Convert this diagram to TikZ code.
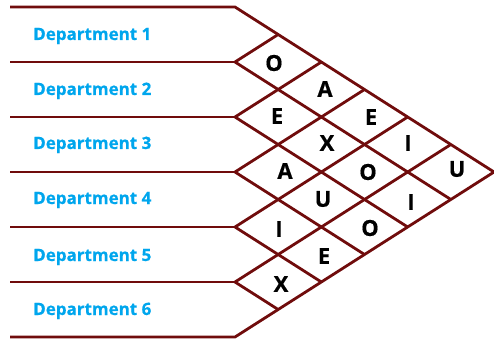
\documentclass[tikz,border=0pt]{standalone}
\usepackage{fontspec}
\setmainfont{Open Sans}[BoldFeatures={FakeBold=0.6}]
\definecolor{linered}{RGB}{112,12,12}
\definecolor{deptblue}{RGB}{0,166,237}
\begin{document}
\begin{tikzpicture}[x=1pt,y=-1pt,
  gridline/.style={draw=linered, line width=2.8pt, line join=round},
  dept/.style={anchor=base west, inner sep=0pt, text=deptblue, font=\fontsize{17}{20}\selectfont\bfseries},
  rel/.style={inner sep=0pt, text=black, font=\fontsize{22}{24}\selectfont\bfseries}]
\useasboundingbox (0,0) rectangle (494,339);
\def\ux{43.17}
\def\vy{27.5}
\coordinate (R) at (494,172);
\foreach \k in {0,...,6} {
  \coordinate (S\k) at (10,{7+2*\k*\vy});
  \coordinate (L\k) at (235,{7+2*\k*\vy});
  \coordinate (U\k) at ({235+\k*\ux},{7+\k*\vy});
  \coordinate (D\k) at ({235+(6-\k)*\ux},{7+(6+\k)*\vy});
}
\draw[gridline] (S0) -- (L0) -- (R);
\draw[gridline] (S6) -- (L6) -- (R);
\foreach \k in {1,...,5} {
  \draw[gridline] (S\k) -- (L\k);
  \draw[gridline] (U\k) -- (L\k) -- (D\k);
}
% department labels
\node[dept] (d1) at (33,40) {Department 1};
\node[dept] (d2) at (33,95) {Department 2};
\node[dept] (d3) at (33,149) {Department 3};
\node[dept] (d4) at (33,204) {Department 4};
\node[dept] (d5) at (33,261) {Department 5};
\node[dept] (d6) at (33,315) {Department 6};
% relationship letters
\node[rel] (r12) at (274,63) {O};
\node[rel] (r13) at (325,89) {A};
\node[rel] (r14) at (371,117) {E};
\node[rel] (r15) at (408,143) {I};
\node[rel] (r16) at (457,169) {U};
\node[rel] (r23) at (277,116) {E};
\node[rel] (r24) at (327,143) {X};
\node[rel] (r25) at (368,172) {O};
\node[rel] (r26) at (411,202) {I};
\node[rel] (r34) at (285,171) {A};
\node[rel] (r35) at (323,199) {U};
\node[rel] (r36) at (370,228) {O};
\node[rel] (r45) at (279,229) {I};
\node[rel] (r46) at (324,256) {E};
\node[rel] (r56) at (281,284) {X};
\end{tikzpicture}
\end{document}
